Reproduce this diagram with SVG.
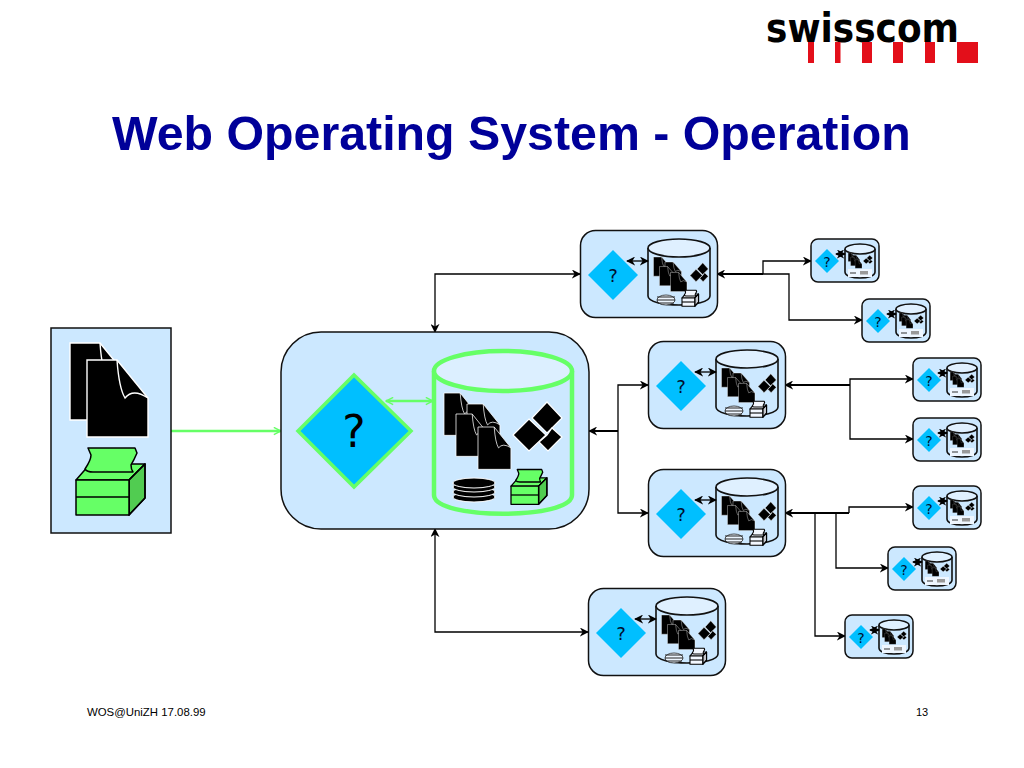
<svg xmlns="http://www.w3.org/2000/svg" xmlns:xlink="http://www.w3.org/1999/xlink" width="1024" height="768" viewBox="0 0 1024 768">
<style>
text{font-family:"Liberation Sans",Arial,sans-serif}
.q{font-family:"DejaVu Sans",sans-serif;text-anchor:middle;fill:#001030}
.box{fill:#cce8ff;stroke:#111;stroke-width:1.5}
.dia{fill:#00bfff}
.cyl{fill:#cce8ff;stroke:#111;stroke-width:1.6}
.cyt{fill:#dff0ff;stroke:#111;stroke-width:1.6}
.c{fill:none;stroke:#000;stroke-width:1.3}
.t{fill:none;stroke:#000;stroke-width:2}
.g{fill:none;stroke:#66ff66;stroke-width:2.4}
.r{fill:#e30f1a}
</style>
<defs>
<marker id="a" viewBox="0 0 10 10" refX="9" refY="5" markerWidth="9" markerHeight="9" markerUnits="userSpaceOnUse" orient="auto-start-reverse"><path d="M0,0 L10,5 L0,10 L3,5 Z" fill="#000"/></marker>
<marker id="ag" viewBox="0 0 10 10" refX="9" refY="5" markerWidth="9" markerHeight="9" markerUnits="userSpaceOnUse" orient="auto-start-reverse"><path d="M1,1 L9,5 L1,9" fill="none" stroke="#66ff66" stroke-width="1.6"/></marker>
<g id="page"><path d="M0,0 H30 L61,38 V77 H0 Z" fill="#000" stroke="#fff" stroke-width="1.4"/><path d="M30,0 Q32,28 38,38 Q46,28 61,38" fill="none" stroke="#fff" stroke-width="1.4"/></g>
<g id="printer" stroke-linejoin="round">
<path d="M0,33 L14,17 H69 L53,33 Z"/>
<path d="M53,33 L69,17 V51 L53,68 Z"/>
<path d="M53,33 L69,17 V51 L53,68 Z" fill="#000" fill-opacity=".2"/>
<path d="M0,33 H53 V68 H0 Z"/>
<path d="M0,50 H53" fill="none"/>
<path d="M12,1 H59 L61,6 Q58,13 55,18 Q55,22 57,25 H17 Q11,25 9,22 Q15,13 15,8 Z"/>
</g>
<g id="disks" fill="#000" stroke="#fff" stroke-width="1">
<ellipse cx="21" cy="19" rx="21" ry="5"/><ellipse cx="21" cy="14" rx="21" ry="5"/><ellipse cx="21" cy="9" rx="21" ry="5"/><ellipse cx="21" cy="5" rx="21" ry="5"/>
</g>
<g id="rects" fill="#000" stroke="#fff" stroke-width="1.2">
<path d="M547,402 L562,418 L547,433 L532,418 Z"/>
<path d="M552,428 L562,437 L548,451 L539,442 L547,435 Z"/>
<path d="M529,419 L546,435 L529,451 L513,435 Z"/>
</g>
<g id="docs">
<use href="#page" transform="translate(444,393) scale(.54,.55)"/>
<use href="#page" transform="translate(467,404) scale(.54,.55)"/>
<use href="#page" transform="translate(456,414) scale(.54,.55)"/>
<use href="#page" transform="translate(478,427) scale(.54,.55)"/>
</g>
<g id="med">
<rect class="box" x=".5" y=".5" width="137" height="87" rx="15"/>
<path class="dia" d="M33,20 L58,45 L33,70 L8,45 Z"/>
<path class="cyl" d="M68,18 V66 C68,78 130,78 130,66 V18"/>
<ellipse class="cyt" cx="99" cy="18" rx="31" ry="9"/>
<g transform="translate(-148.5,-151) scale(.5,.453)"><use href="#docs"/></g>
<g transform="translate(-81.3,-122) scale(.373,.385)"><use href="#rects"/></g>
<ellipse cx="86" cy="70" rx="9" ry="5" fill="#eef6ff" stroke="#222" stroke-width=".8"/>
<path d="M77,67 H95 M77,70 H95 M78,73 H94" stroke="#222" stroke-width="1"/>
<g transform="translate(102,60) scale(.24)" fill="#f4f8ff" stroke="#000" stroke-width="4.500"><use href="#printer"/></g>
</g>
<g id="small">
<rect class="box" x="1" y="1" width="68" height="43" rx="7"/>
<path class="dia" d="M17,11 L29,23 L17,35 L5,23 Z"/>
<path class="cyl" d="M35,11 V34 C35,42 65,42 65,34 V11"/>
<ellipse class="cyt" cx="50" cy="11" rx="15" ry="5"/>
<g transform="translate(-53.3,-63.6) scale(.206,.2)"><use href="#docs"/></g>
<g transform="translate(-47.5,-52.2) scale(.196,.173)"><use href="#rects"/></g>
<rect x="38" y="31" width="24" height="8" fill="#eef6ff"/>
<path d="M40,35 H46" stroke="#333" stroke-width="1"/>
<rect x="50" y="33" width="8" height="3.500" fill="#999"/>
</g>
</defs>

<rect width="1024" height="768" fill="#fff"/>

<g id="logo">
<text x="766" y="42" font-size="41" font-weight="700" fill="#000" textLength="193" lengthAdjust="spacingAndGlyphs" style="font-family:'DejaVu Sans',sans-serif">swisscom</text>
<rect class="r" x="808" y="42" width="6" height="21"/>
<rect class="r" x="835" y="42" width="5.500" height="21"/>
<rect class="r" x="862" y="42" width="10" height="21"/>
<rect class="r" x="893" y="42" width="10" height="21"/>
<rect class="r" x="925" y="42" width="10" height="21"/>
<rect class="r" x="957" y="42" width="21" height="21"/>
</g>
<text id="title" x="112" y="150" font-size="48.300" font-weight="700" fill="#000099">Web Operating System - Operation</text>

<g id="connectors">
<path class="c" marker-start="url(#a)" marker-end="url(#a)" d="M435,332 V274 H580"/>
<path class="c" marker-start="url(#a)" marker-end="url(#a)" d="M435,529 V632 H588"/>
<path class="t" marker-start="url(#a)" d="M589,431 H618"/>
<path class="c" marker-end="url(#a)" d="M618,431 V385 H648"/>
<path class="c" marker-end="url(#a)" d="M618,431 V513 H648"/>
<path class="t" marker-start="url(#a)" d="M717,274 H763"/>
<path class="c" marker-end="url(#a)" d="M763,274 V261 H811"/>
<path class="c" marker-end="url(#a)" d="M763,274 H789 V320 H862"/>
<path class="t" marker-start="url(#a)" d="M785,385 H850"/>
<path class="c" marker-end="url(#a)" d="M850,385 V379 H913"/>
<path class="c" marker-end="url(#a)" d="M850,385 V439 H913"/>
<path class="t" marker-start="url(#a)" d="M785,513 H849"/>
<path class="c" marker-end="url(#a)" d="M849,513 V507 H913"/>
<path class="c" marker-end="url(#a)" d="M836,513 V568 H888"/>
<path class="c" marker-end="url(#a)" d="M815,513 V636 H845"/>
<path class="g" marker-end="url(#ag)" d="M171,431 H281"/>
</g>

<g id="source">
<rect x="51" y="328" width="120" height="205" fill="#cce8ff" stroke="#111" stroke-width="1.5"/>
<use href="#page" transform="translate(70,343)"/>
<use href="#page" transform="translate(87,360)"/>
<g transform="translate(76,447)" fill="#66ff66" stroke="#000" stroke-width="1.5"><use href="#printer"/></g>
</g>

<g id="central">
<rect class="box" x="281" y="332" width="308" height="197" rx="40"/>
<path d="M354,375 L411,431 L354,487 L298,431 Z" fill="#00bfff" stroke="#66ff66" stroke-width="3.500"/>
<text class="q" x="354" y="447" font-size="44" style="fill:#000">?</text>
<path d="M434,371 V495 C434,520 572,520 572,495 V371" fill="#cce8ff" stroke="#66ff66" stroke-width="4.500"/>
<ellipse cx="503" cy="371" rx="69" ry="20" fill="#dcefff" stroke="#66ff66" stroke-width="4.500"/>
<use href="#docs"/>
<use href="#rects"/>
<g transform="translate(453,478)"><use href="#disks"/></g>
<g transform="translate(511,469) scale(.52)" fill="#66ff66" stroke="#000" stroke-width="2.500"><use href="#printer"/></g>
</g>
<g id="central-link"><path class="g" marker-start="url(#ag)" marker-end="url(#ag)" d="M386,401 H433"/></g>

<g id="node-m1" transform="translate(580,230)"><use href="#med"/><path class="c" marker-start="url(#a)" marker-end="url(#a)" d="M47,31 H68"/><text class="q" x="33" y="52" font-size="18">?</text></g>
<g id="node-m2" transform="translate(648,341)"><use href="#med"/><path class="c" marker-start="url(#a)" marker-end="url(#a)" d="M47,31 H68"/><text class="q" x="33" y="52" font-size="18">?</text></g>
<g id="node-m3" transform="translate(648,469)"><use href="#med"/><path class="c" marker-start="url(#a)" marker-end="url(#a)" d="M47,31 H68"/><text class="q" x="33" y="52" font-size="18">?</text></g>
<g id="node-m4" transform="translate(588,588)"><use href="#med"/><path class="c" marker-start="url(#a)" marker-end="url(#a)" d="M47,31 H68"/><text class="q" x="33" y="52" font-size="18">?</text></g>

<g id="node-s1" transform="translate(810,238)"><use href="#small"/><path class="c" marker-start="url(#a)" marker-end="url(#a)" d="M26,16 H35"/><text class="q" x="17" y="29" font-size="14">?</text></g>
<g id="node-s2" transform="translate(861,298)"><use href="#small"/><path class="c" marker-start="url(#a)" marker-end="url(#a)" d="M26,16 H35"/><text class="q" x="17" y="29" font-size="14">?</text></g>
<g id="node-s3" transform="translate(912,357)"><use href="#small"/><path class="c" marker-start="url(#a)" marker-end="url(#a)" d="M26,16 H35"/><text class="q" x="17" y="29" font-size="14">?</text></g>
<g id="node-s4" transform="translate(912,417)"><use href="#small"/><path class="c" marker-start="url(#a)" marker-end="url(#a)" d="M26,16 H35"/><text class="q" x="17" y="29" font-size="14">?</text></g>
<g id="node-s5" transform="translate(912,485)"><use href="#small"/><path class="c" marker-start="url(#a)" marker-end="url(#a)" d="M26,16 H35"/><text class="q" x="17" y="29" font-size="14">?</text></g>
<g id="node-s6" transform="translate(887,546)"><use href="#small"/><path class="c" marker-start="url(#a)" marker-end="url(#a)" d="M26,16 H35"/><text class="q" x="17" y="29" font-size="14">?</text></g>
<g id="node-s7" transform="translate(844,614)"><use href="#small"/><path class="c" marker-start="url(#a)" marker-end="url(#a)" d="M26,16 H35"/><text class="q" x="17" y="29" font-size="14">?</text></g>

<text x="87" y="716" font-size="11.400" fill="#000">WOS@UniZH 17.08.99</text>
<text x="916" y="716" font-size="11" fill="#000">13</text>
</svg>
